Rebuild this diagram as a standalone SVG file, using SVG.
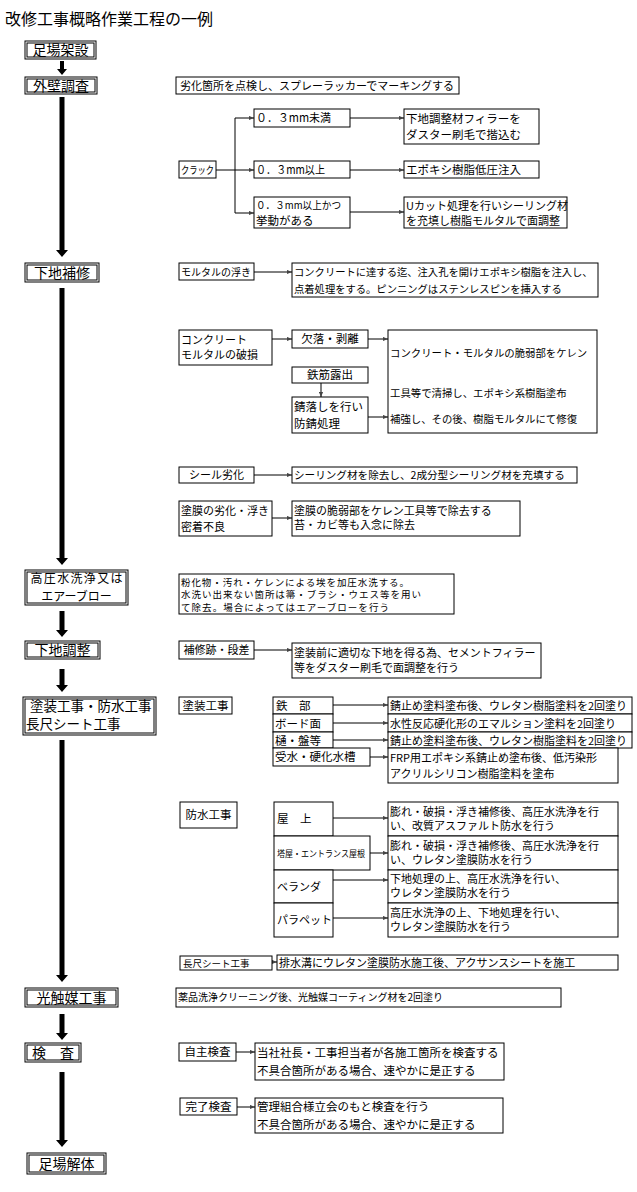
<svg xmlns="http://www.w3.org/2000/svg" width="637" height="1192" viewBox="0 0 637 1192">
<style>
.b{fill:#fff;stroke:#000;stroke-width:1}
.t{font-family:"Noto Sans CJK JP","Noto Sans CJK SC",sans-serif;font-size:11px;fill:#000}
.n{font-size:14px}
.m{text-anchor:middle}
.c{fill:none;stroke:#000;stroke-width:1}
.k{fill:#000}
</style>
<defs>
<marker id="a" viewBox="0 0 6 6" markerWidth="5" markerHeight="5" refX="6" refY="3" orient="auto" markerUnits="userSpaceOnUse"><path d="M0,0.5 L6,3 L0,5.5 z" fill="#444"/></marker>
</defs>
<rect width="637" height="1192" fill="#fff"/>
<text class="t" x="5" y="25" style="font-size:16px">改修工事概略作業工程の一例</text>

<g id="connectors">
<path class="k" d="M60,61 h4 v8 h3 l-5,6 l-5,-6 h3 z"/>
<path class="k" d="M59.5,97 h5 v153 h3.5 l-6,7 l-6,-7 h3.5 z"/>
<path class="k" d="M59.5,288 h5 v270 h3.5 l-6,7 l-6,-7 h3.5 z"/>
<path class="k" d="M59.5,611 h5 v19 h3.5 l-6,7 l-6,-7 h3.5 z"/>
<path class="k" d="M59.5,669 h5 v16 h3.5 l-6,7 l-6,-7 h3.5 z"/>
<path class="k" d="M59.5,740 h5 v235 h3.5 l-6,7 l-6,-7 h3.5 z"/>
<path class="k" d="M59.5,1014 h5 v19 h3.5 l-6,7 l-6,-7 h3.5 z"/>
<path class="k" d="M59.5,1072 h5 v68 h3.5 l-6,7 l-6,-7 h3.5 z"/>
<path class="c" d="M216,170 H235 M235,118 V213"/>
<line class="c" x1="235" y1="118" x2="254" y2="118" marker-end="url(#a)"/>
<line class="c" x1="235" y1="170" x2="254" y2="170" marker-end="url(#a)"/>
<line class="c" x1="235" y1="213" x2="254" y2="213" marker-end="url(#a)"/>
<line class="c" x1="350" y1="118" x2="404" y2="118" marker-end="url(#a)"/>
<line class="c" x1="350" y1="170" x2="404" y2="170" marker-end="url(#a)"/>
<line class="c" x1="350" y1="212" x2="404" y2="212" marker-end="url(#a)"/>
<line class="c" x1="254" y1="272" x2="292" y2="272" marker-end="url(#a)"/>
<line class="c" x1="272" y1="339" x2="292" y2="339" marker-end="url(#a)"/>
<line class="c" x1="368" y1="339" x2="388" y2="339" marker-end="url(#a)"/>
<line class="c" x1="321" y1="383" x2="321" y2="397" marker-end="url(#a)"/>
<line class="c" x1="368" y1="417" x2="388" y2="417" marker-end="url(#a)"/>
<line class="c" x1="254" y1="475" x2="292" y2="475" marker-end="url(#a)"/>
<line class="c" x1="272" y1="518" x2="292" y2="518" marker-end="url(#a)"/>
<line class="c" x1="254" y1="650" x2="292" y2="650" marker-end="url(#a)"/>
<line class="c" x1="333" y1="705" x2="388" y2="705" marker-end="url(#a)"/>
<line class="c" x1="333" y1="723" x2="388" y2="723" marker-end="url(#a)"/>
<line class="c" x1="333" y1="740" x2="388" y2="740" marker-end="url(#a)"/>
<line class="c" x1="370" y1="757" x2="388" y2="757" marker-end="url(#a)"/>
<line class="c" x1="333" y1="818" x2="388" y2="818" marker-end="url(#a)"/>
<line class="c" x1="370" y1="853" x2="388" y2="853" marker-end="url(#a)"/>
<line class="c" x1="333" y1="880" x2="388" y2="880" marker-end="url(#a)"/>
<line class="c" x1="333" y1="918" x2="388" y2="918" marker-end="url(#a)"/>
<line class="c" x1="272" y1="962" x2="277" y2="962" marker-end="url(#a)"/>
<line class="c" x1="236" y1="1052" x2="255" y2="1052" marker-end="url(#a)"/>
<line class="c" x1="237" y1="1107" x2="255" y2="1107" marker-end="url(#a)"/>
</g>

<g id="n-ashiba-kasetsu"><rect class="b" x="25" y="41" width="71" height="18"/><rect class="b" x="27" y="43" width="67" height="14"/><text class="t n m" x="60.5" y="55">足場架設</text></g>
<g id="n-gaiheki"><rect class="b" x="25" y="77" width="72" height="17"/><rect class="b" x="27" y="79" width="68" height="13"/><text class="t n m" x="61" y="91">外壁調査</text></g>
<g id="n-shitaji-hoshu"><rect class="b" x="25" y="263" width="74" height="19"/><rect class="b" x="27" y="265" width="70" height="15"/><text class="t n m" x="62" y="278">下地補修</text></g>
<g id="n-kouatsu"><rect class="b" x="25" y="570" width="103" height="35"/><rect class="b" x="27" y="572" width="99" height="31"/><text class="t m" x="76.5" y="583" style="font-size:12px" textLength="92" lengthAdjust="spacing">高圧水洗浄又は</text><text class="t m" x="76.5" y="601" style="font-size:12px">エアーブロー</text></g>
<g id="n-shitaji-chousei"><rect class="b" x="25" y="641" width="75" height="18"/><rect class="b" x="27" y="643" width="71" height="14"/><text class="t n m" x="62.5" y="655">下地調整</text></g>
<g id="n-tosou"><rect class="b" x="23" y="697" width="133" height="38"/><rect class="b" x="25" y="699" width="129" height="34"/><text class="t" x="30" y="711" style="font-size:13.5px">塗装工事・防水工事</text><text class="t" x="26" y="729" style="font-size:13.5px">長尺シート工事</text></g>
<g id="n-hikari"><rect class="b" x="25" y="988" width="93" height="19"/><rect class="b" x="27" y="990" width="89" height="15"/><text class="t n m" x="71.5" y="1003">光触媒工事</text></g>
<g id="n-kensa"><rect class="b" x="25" y="1043" width="56" height="19"/><rect class="b" x="27" y="1045" width="52" height="15"/><text class="t n m" x="53" y="1058">検　査</text></g>
<g id="n-ashiba-kaitai"><rect class="b" x="27" y="1153" width="79" height="21"/><rect class="b" x="29" y="1155" width="75" height="17"/><text class="t n m" x="66.5" y="1169">足場解体</text></g>

<g id="d-rekka"><rect class="b" x="176" y="77" width="283" height="17"/><text class="t" x="180" y="90">劣化箇所を点検し、スプレーラッカーでマーキングする</text></g>

<g id="d-crack"><rect class="b" x="179" y="161" width="37" height="17"/><text class="t" x="181" y="174" style="font-size:10.5px" textLength="33" lengthAdjust="spacingAndGlyphs">クラック</text></g>
<g id="d-c1"><rect class="b" x="254" y="109" width="96" height="18"/><text class="t" x="256" y="122" style="font-size:11.5px" textLength="75" lengthAdjust="spacingAndGlyphs">０．３mm未満</text></g>
<g id="d-c2"><rect class="b" x="254" y="161" width="96" height="17"/><text class="t" x="256" y="174" style="font-size:11.5px" textLength="69" lengthAdjust="spacingAndGlyphs">０．３mm以上</text></g>
<g id="d-c3"><rect class="b" x="254" y="197" width="96" height="31"/><text class="t" x="256" y="209" style="font-size:10.5px" textLength="85" lengthAdjust="spacingAndGlyphs">０．３mm以上かつ</text><text class="t" x="256" y="225" style="font-size:11.5px">挙動がある</text></g>
<g id="d-c1r"><rect class="b" x="404" y="109" width="135" height="35"/><text class="t" x="406" y="123" style="font-size:11.5px">下地調整材フィラーを</text><text class="t" x="406" y="139" style="font-size:11.5px">ダスター刷毛で揩込む</text></g>
<g id="d-c2r"><rect class="b" x="404" y="161" width="135" height="17"/><text class="t" x="406" y="174" style="font-size:11.5px">エポキシ樹脂低圧注入</text></g>
<g id="d-c3r"><rect class="b" x="404" y="197" width="163" height="31"/><text class="t" x="406" y="210">Uカット処理を行いシーリング材</text><text class="t" x="406" y="225">を充填し樹脂モルタルで面調整</text></g>

<g id="d-uki"><rect class="b" x="179" y="263" width="75" height="17"/><text class="t" x="181" y="276" style="font-size:10px">モルタルの浮き</text></g>
<g id="d-uki-r"><rect class="b" x="292" y="263" width="306" height="34"/><text class="t" x="294" y="276" style="font-size:10.3px">コンクリートに達する迄、注入孔を開けエポキシ樹脂を注入し、</text><text class="t" x="294" y="293" style="font-size:10.3px">点着処理をする。ピンニングはステンレスピンを挿入する</text></g>

<g id="d-hason"><rect class="b" x="179" y="330" width="93" height="35"/><text class="t" x="181" y="344">コンクリート</text><text class="t" x="181" y="359">モルタルの破損</text></g>
<g id="d-kerakku"><rect class="b" x="292" y="330" width="76" height="18"/><text class="t m" x="330" y="343" style="font-size:11.5px">欠落・剥離</text></g>
<g id="d-tekkin"><rect class="b" x="292" y="367" width="76" height="16"/><text class="t m" x="330" y="379" style="font-size:11.5px">鉄筋露出</text></g>
<g id="d-saboshi"><rect class="b" x="292" y="397" width="76" height="36"/><text class="t" x="294" y="411" style="font-size:11.5px">錆落しを行い</text><text class="t" x="294" y="428" style="font-size:11.5px">防錆処理</text></g>
<g id="d-hason-r"><rect class="b" x="388" y="330" width="209" height="103"/><text class="t" x="390" y="357" style="font-size:10.4px">コンクリート・モルタルの脆弱部をケレン</text><text class="t" x="390" y="397" style="font-size:10.4px">工具等で清掃し、エポキシ系樹脂塗布</text><text class="t" x="390" y="423" style="font-size:10.4px">補強し、その後、樹脂モルタルにて修復</text></g>

<g id="d-seal"><rect class="b" x="179" y="467" width="75" height="16"/><text class="t m" x="216.5" y="479">シール劣化</text></g>
<g id="d-seal-r"><rect class="b" x="292" y="467" width="285" height="16"/><text class="t" x="294" y="479" style="font-size:10.6px">シーリング材を除去し、2成分型シーリング材を充填する</text></g>
<g id="d-tomaku"><rect class="b" x="179" y="501" width="93" height="35"/><text class="t" x="181" y="515">塗膜の劣化・浮き</text><text class="t" x="181" y="531">密着不良</text></g>
<g id="d-tomaku-r"><rect class="b" x="292" y="501" width="228" height="35"/><text class="t" x="294" y="515">塗膜の脆弱部をケレン工具等で除去する</text><text class="t" x="294" y="529">苔・カビ等も入念に除去</text></g>

<g id="d-kouatsu"><rect class="b" x="179" y="574" width="275" height="40"/><text class="t" x="181" y="585.5" style="font-size:9.5px" textLength="228" lengthAdjust="spacing">粉化物・汚れ・ケレンによる埃を加圧水洗する。</text><text class="t" x="181" y="598" style="font-size:9.5px" textLength="240" lengthAdjust="spacing">水洗い出来ない箇所は箒・ブラシ・ウエス等を用い</text><text class="t" x="181" y="610.5" style="font-size:9.5px" textLength="208" lengthAdjust="spacing">て除去。場合によってはエアーブローを行う</text></g>

<g id="d-hoshuato"><rect class="b" x="179" y="641" width="75" height="18"/><text class="t m" x="216.5" y="654">補修跡・段差</text></g>
<g id="d-hoshuato-r"><rect class="b" x="292" y="643" width="249" height="35"/><text class="t" x="294" y="657">塗装前に適切な下地を得る為、セメントフィラー</text><text class="t" x="294" y="672">等をダスター刷毛で面調整を行う</text></g>

<g id="d-tosou"><rect class="b" x="179" y="697" width="53" height="17"/><text class="t m" x="205.5" y="710" style="font-size:11.5px">塗装工事</text></g>
<g id="d-tetsubu"><rect class="b" x="273" y="697" width="60" height="17"/><text class="t" x="276" y="710" style="font-size:11.5px">鉄　部</text></g>
<g id="d-board"><rect class="b" x="273" y="714" width="60" height="18"/><text class="t" x="275" y="728" style="font-size:11.5px">ボード面</text></g>
<g id="d-toi"><rect class="b" x="273" y="732" width="60" height="16"/><text class="t" x="275" y="745" style="font-size:11.5px">樋・盤等</text></g>
<g id="d-jusui"><rect class="b" x="273" y="748" width="97" height="18"/><text class="t" x="275" y="761" style="font-size:11.5px">受水・硬化水槽</text></g>
<g id="d-tetsubu-r"><rect class="b" x="388" y="697" width="244" height="17"/><text class="t" x="390" y="710">錆止め塗料塗布後、ウレタン樹脂塗料を2回塗り</text></g>
<g id="d-board-r"><rect class="b" x="388" y="714" width="244" height="18"/><text class="t" x="390" y="728">水性反応硬化形のエマルション塗料を2回塗り</text></g>
<g id="d-toi-r"><rect class="b" x="388" y="732" width="244" height="16"/><text class="t" x="390" y="745">錆止め塗料塗布後、ウレタン樹脂塗料を2回塗り</text></g>
<g id="d-jusui-r"><rect class="b" x="388" y="748" width="230" height="35"/><text class="t" x="390" y="762">FRP用エポキシ系錆止め塗布後、低汚染形</text><text class="t" x="390" y="778">アクリルシリコン樹脂塗料を塗布</text></g>

<g id="d-bousui"><rect class="b" x="180" y="802" width="57" height="26"/><text class="t m" x="208.5" y="819" style="font-size:11.5px">防水工事</text></g>
<g id="d-okujou"><rect class="b" x="274" y="802" width="59" height="34"/><text class="t" x="277" y="823" style="font-size:11.5px">屋　上</text></g>
<g id="d-touya"><rect class="b" x="274" y="836" width="96" height="34"/><text class="t" x="277" y="857" style="font-size:9px" textLength="88" lengthAdjust="spacingAndGlyphs">塔屋・エントランス屋根</text></g>
<g id="d-veranda"><rect class="b" x="274" y="870" width="59" height="33"/><text class="t" x="277" y="891">ベランダ</text></g>
<g id="d-parapet"><rect class="b" x="274" y="903" width="59" height="34"/><text class="t" x="277" y="924">パラペット</text></g>
<g id="d-okujou-r"><rect class="b" x="388" y="802" width="230" height="34"/><text class="t" x="390" y="816">膨れ・破損・浮き補修後、高圧水洗浄を行</text><text class="t" x="390" y="830">い、改質アスファルト防水を行う</text></g>
<g id="d-touya-r"><rect class="b" x="388" y="836" width="230" height="34"/><text class="t" x="390" y="850">膨れ・破損・浮き補修後、高圧水洗浄を行</text><text class="t" x="390" y="864">い、ウレタン塗膜防水を行う</text></g>
<g id="d-veranda-r"><rect class="b" x="388" y="870" width="230" height="33"/><text class="t" x="390" y="883">下地処理の上、高圧水洗浄を行い、</text><text class="t" x="390" y="897">ウレタン塗膜防水を行う</text></g>
<g id="d-parapet-r"><rect class="b" x="388" y="903" width="230" height="34"/><text class="t" x="390" y="917">高圧水洗浄の上、下地処理を行い、</text><text class="t" x="390" y="931">ウレタン塗膜防水を行う</text></g>

<g id="d-nagajaku"><rect class="b" x="180" y="956" width="92" height="14"/><text class="t" x="183" y="967" style="font-size:9.5px">長尺シート工事</text></g>
<g id="d-nagajaku-r"><rect class="b" x="277" y="955" width="341" height="15"/><text class="t" x="279" y="967">排水溝にウレタン塗膜防水施工後、アクサンスシートを施工</text></g>

<g id="d-hikari"><rect class="b" x="176" y="988" width="385" height="19"/><text class="t" x="178" y="1001" style="font-size:10px">薬品洗浄クリーニング後、光触媒コーティング材を2回塗り</text></g>

<g id="d-jishu"><rect class="b" x="179" y="1043" width="57" height="18"/><text class="t m" x="207.5" y="1056" style="font-size:11.5px">自主検査</text></g>
<g id="d-jishu-r"><rect class="b" x="255" y="1043" width="249" height="37"/><text class="t" x="257" y="1057" style="font-size:11.5px">当社社長・工事担当者が各施工箇所を検査する</text><text class="t" x="257" y="1075" style="font-size:11.5px">不具合箇所がある場合、速やかに是正する</text></g>
<g id="d-kanryou"><rect class="b" x="180" y="1098" width="57" height="17"/><text class="t m" x="208.5" y="1111" style="font-size:11.5px">完了検査</text></g>
<g id="d-kanryou-r"><rect class="b" x="255" y="1098" width="248" height="35"/><text class="t" x="257" y="1111" style="font-size:11.5px">管理組合様立会のもと検査を行う</text><text class="t" x="257" y="1129" style="font-size:11.5px">不具合箇所がある場合、速やかに是正する</text></g>
</svg>
